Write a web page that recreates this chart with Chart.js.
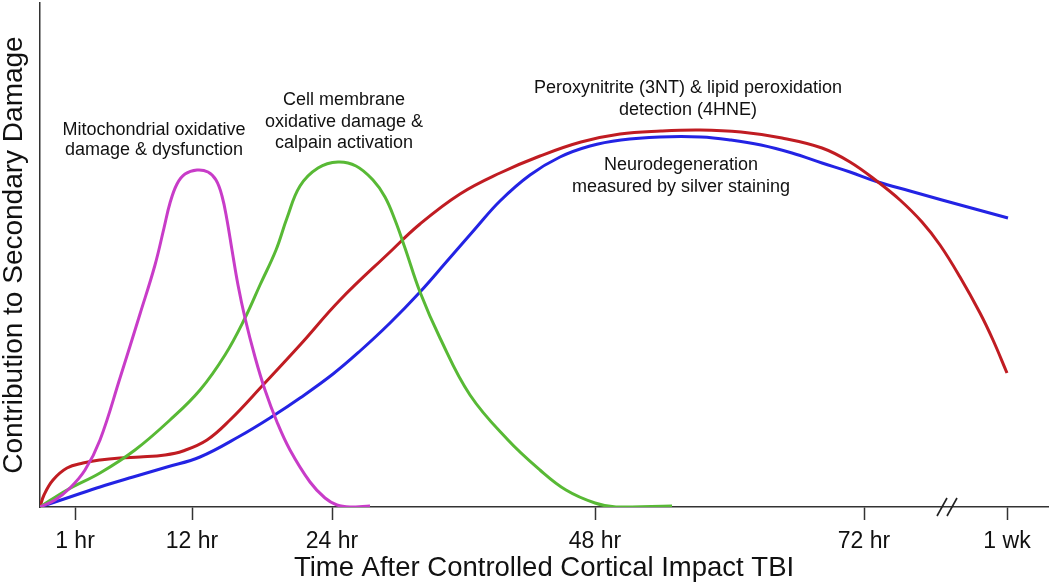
<!DOCTYPE html>
<html>
<head>
<meta charset="utf-8">
<script src="https://cdn.jsdelivr.net/npm/chart.js@4.4.1/dist/chart.umd.min.js"></script>
<style>
  html, body { margin: 0; padding: 0; background: #fff; }
  #wrap { width: 1050px; height: 585px; }
</style>
</head>
<body>
<div id="wrap"><canvas id="chart" width="1050" height="585"></canvas></div>
<script>
// positions along the (schematic) time axis, 0..100.8
var tickPos = [3.5, 15.2, 29.2, 55.5, 82.4, 96.7];
var tickLabels = ["1 hr", "12 hr", "24 hr", "48 hr", "72 hr", "1 wk"];
var breakAt = 90.7;

// [x, y]
var mitoPts = [[0,0],[1.5,1.4],[3,3.8],[4.5,7.4],[6,13.4],[8,25.8],[10,38.6],[11.5,48.4],[12.4,55.8],
  [13,60.8],[13.7,64.6],[14.5,66.6],[15.7,67.4],[16.8,67],[17.6,65.4],[18.2,62.2],[18.7,57.4],[19.2,51.4],
  [19.8,44.4],[20.5,37.8],[21.5,30],[22.5,23.4],[23.7,17],[25,11.4],[27,5],[28.5,1.8],[29.7,0.4],[31,0],[33,0.2]];
var membranePts = [[0,0],[2.7,3.4],[6,6.8],[9.5,11.4],[13,17.4],[16,23.4],[18.5,30.4],[20.5,37.8],[22,44.4],
  [23.6,51.4],[24.7,57.8],[26,64.2],[27.8,67.8],[29.8,69],[31.6,68.2],[33.3,65.4],[34.5,62],[35.5,57.4],
  [36.5,51.8],[38,43],[40,33.8],[43,22.4],[46.8,13.4],[50,7.4],[52.6,3.4],[55.5,0.8],[57.6,0],[63.2,0.2]];
var peroxPts = [[0,0],[0.4,2.4],[1.3,5.4],[2.7,7.8],[4.3,8.8],[6,9.4],[8,9.8],[10,10],[12.5,10.4],[14.3,11.2],
  [16.7,13.4],[19,17.4],[22.3,24.4],[26,32.4],[30,41.4],[35,51],[38,56.6],[42,62.6],[46,66.8],[50,70.2],
  [54.1,73],[58,74.6],[62.1,75.2],[66,75.4],[70.1,75],[74.2,73.8],[78.2,71.8],[81,69],[83.8,65],[86,61.4],
  [88.2,57],[90,52.4],[92,46],[94,38.8],[95.3,33.4],[96.7,26.8]];
var neuroPts = [[0,0],[3,2],[6,4],[9.3,6],[12.7,8],[16,10],[20,14.2],[23.3,18.2],[26,21.8],[29.3,26.6],
  [32,31.2],[35,36.8],[38,43],[40.8,49.4],[43.5,55.6],[46,61.2],[49,66.4],[52,70],[55,72.2],[58.1,73.4],
  [62,74],[66.1,74],[69.1,73.4],[72.1,72.4],[75.2,70.8],[78.2,68.8],[81,67],[83.8,65],[87,63.2],[90.2,61.4],
  [93.5,59.6],[96.8,57.8]];

var notes = [
  { x: 11.4, y: [75.4, 71.4], lines: ["Mitochondrial oxidative", "damage & dysfunction"] },
  { x: 30.4, y: [81.4, 77, 72.8], lines: ["Cell membrane", "oxidative damage &", "calpain activation"] },
  { x: 64.8, y: [83.8, 79.4], lines: ["Peroxynitrite (3NT) & lipid peroxidation", "detection (4HNE)"] },
  { x: 64.1, y: [68.4, 64], lines: ["Neurodegeneration", "measured by silver staining"] }
];

var FONT = "'Liberation Sans', Arial, Helvetica, sans-serif";

function pts(a) { return a.map(function(p) { return {x: p[0], y: p[1]}; }); }

function line(data, color) {
  return {
    data: pts(data),
    borderColor: color,
    borderWidth: 3,
    pointRadius: 0,
    fill: false,
    tension: 0.4
  };
}

var extras = {
  id: 'extras',
  afterDraw: function(chart) {
    var ctx = chart.ctx, xs = chart.scales.x, ys = chart.scales.y;
    ctx.save();
    // annotations
    ctx.fillStyle = '#111';
    ctx.font = '18px ' + FONT;
    ctx.textAlign = 'center';
    ctx.textBaseline = 'middle';
    notes.forEach(function(n) {
      n.lines.forEach(function(t, i) {
        ctx.fillText(t, xs.getPixelForValue(n.x), ys.getPixelForValue(n.y[i]));
      });
    });
    // axis break
    var bx = xs.getPixelForValue(breakAt), by = chart.chartArea.bottom;
    ctx.strokeStyle = '#222';
    ctx.lineWidth = 1.6;
    [-5, 5].forEach(function(o) {
      ctx.beginPath();
      ctx.moveTo(bx + o - 5, by + 9);
      ctx.lineTo(bx + o + 5, by - 9);
      ctx.stroke();
    });
    ctx.restore();
  }
};

new Chart(document.getElementById('chart'), {
  type: 'line',
  data: {
    datasets: [
      line(mitoPts, '#c83cc8'),
      line(membranePts, '#58b935'),
      line(peroxPts, '#c01c22'),
      line(neuroPts, '#2323e4')
    ]
  },
  options: {
    responsive: false,
    animation: false,
    layout: { padding: { top: 3, right: 2 } },
    plugins: { legend: { display: false }, tooltip: { enabled: false } },
    scales: {
      x: {
        type: 'linear',
        min: 0,
        max: 100.8,
        afterFit: function(s) { s.height = 78; },
        afterBuildTicks: function(s) {
          s.ticks = tickPos.map(function(v) { return {value: v}; });
        },
        ticks: {
          autoSkip: false,
          maxRotation: 0,
          padding: 8,
          color: '#111',
          font: { family: FONT, size: 23 },
          callback: function(v, i) { return tickLabels[i]; }
        },
        grid: { drawOnChartArea: false, drawTicks: true, tickLength: 13, tickWidth: 1.5, color: '#333' },
        border: { color: '#333', width: 1.5 },
        title: {
          display: true,
          text: 'Time After Controlled Cortical Impact TBI',
          color: '#111',
          font: { family: FONT, size: 27.5, lineHeight: 1 },
          padding: { top: 0, bottom: 3 }
        }
      },
      y: {
        min: 0,
        max: 100.8,
        afterFit: function(s) { s.width = 40; },
        ticks: { display: false },
        grid: { drawOnChartArea: false, drawTicks: false },
        border: { color: '#333', width: 1.5 },
        title: {
          display: true,
          text: 'Contribution to Secondary Damage',
          color: '#111',
          font: { family: FONT, size: 28, lineHeight: 1 },
          padding: { top: 0, bottom: 0 }
        }
      }
    }
  },
  plugins: [extras]
});
</script>
</body>
</html>
